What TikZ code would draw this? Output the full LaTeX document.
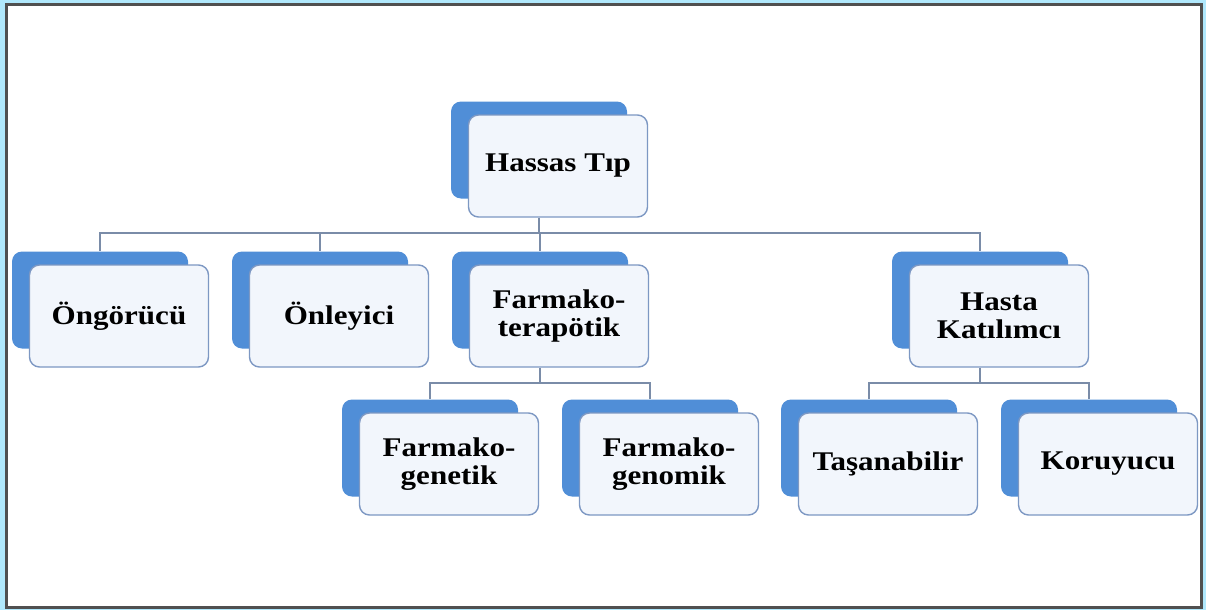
\documentclass[tikz,border=0pt]{standalone}
\usepackage{fontspec}
\setmainfont{Liberation Serif}[FakeStretch=1.15]
\usetikzlibrary{positioning}

\definecolor{skyback}{RGB}{176,232,252}
\definecolor{framegray}{RGB}{80,80,80}
\definecolor{backblue}{RGB}{80,142,215}
\definecolor{frontfill}{RGB}{242,246,252}
\definecolor{frontline}{RGB}{125,152,195}
\definecolor{linkgray}{RGB}{122,140,168}

\begin{document}
\begin{tikzpicture}[x=1pt, y=-1pt,
  back/.style={fill=backblue, rounded corners=10pt, minimum width=176pt,
    minimum height=97pt, inner sep=0pt},
  front/.style={fill=frontfill, draw=frontline, line width=1.4pt,
    rounded corners=10pt, minimum width=179pt, minimum height=102pt,
    inner sep=0pt, align=center, xshift=19pt, yshift=-16pt,
    font=\fontsize{27}{28}\selectfont\bfseries},
  link/.style={draw=linkgray, line width=2pt}]

  \useasboundingbox (0,0) rectangle (1206,610);
  \fill[skyback] (0,0) rectangle (1206,610);
  \draw[fill=white, draw=framegray, line width=3pt] (6,5) rectangle (1201,607);

  % root
  \node[back] (hassasB) at (539,150) {};
  \node[front] (hassas) at (hassasB) {Hassas Tıp};

  % first level
  \node[back] (ongB) at (100,300) {};
  \node[front] (ong) at (ongB) {Öngörücü};
  \node[back] (onlB) at (320,300) {};
  \node[front] (onl) at (onlB) {Önleyici};
  \node[back] (terB) at (540,300) {};
  \node[front] (ter) at (terB) {Farmako-\\terapötik};
  \node[back] (hastaB) at (980,300) {};
  \node[front] (hasta) at (hastaB) {Hasta\\Katılımcı};

  % second level
  \node[back] (genetB) at (430,448) {};
  \node[front] (genet) at (genetB) {Farmako-\\genetik};
  \node[back] (genomB) at (650,448) {};
  \node[front] (genom) at (genomB) {Farmako-\\genomik};
  \node[back] (tasB) at (869,448) {};
  \node[front] (tas) at (tasB) {Taşanabilir};
  \node[back] (korB) at (1089,448) {};
  \node[front] (kor) at (korB) {Koruyucu};

  % connectors
  \coordinate (bar1) at (539,233);
  \coordinate (bar2) at (540,383);
  \coordinate (bar3) at (980,383);
  \draw[link] (hassasB |- hassas.south) -- (bar1);
  \foreach \c in {ongB, onlB, terB, hastaB}
    \draw[link] (bar1) -| (\c.north);
  \draw[link] (terB |- ter.south) -- (bar2);
  \foreach \c in {genetB, genomB}
    \draw[link] (bar2) -| (\c.north);
  \draw[link] (hastaB |- hasta.south) -- (bar3);
  \foreach \c in {tasB, korB}
    \draw[link] (bar3) -| (\c.north);
\end{tikzpicture}
\end{document}
